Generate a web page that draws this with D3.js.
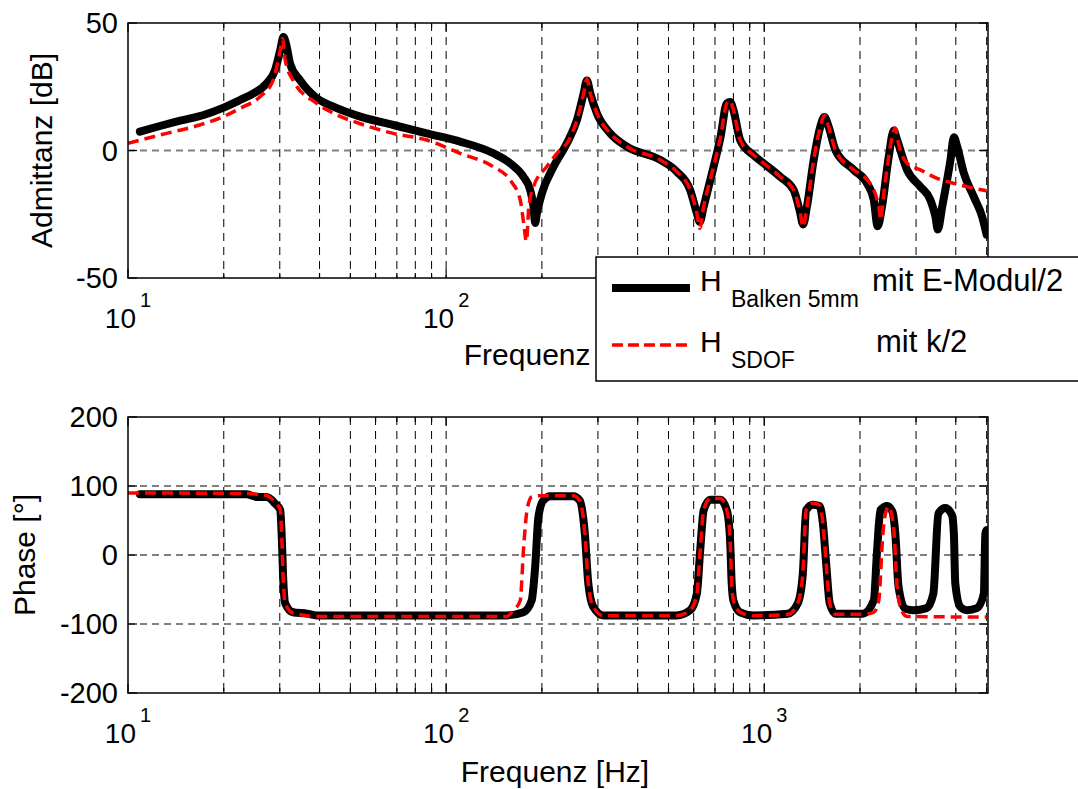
<!DOCTYPE html>
<html>
<head>
<meta charset="utf-8">
<script src="https://cdnjs.cloudflare.com/ajax/libs/d3/7.8.5/d3.min.js"></script>
<style>
  body { margin: 0; background: #fff; }
  svg { display: block; font-family: "Liberation Sans", Arial, Helvetica, sans-serif; }
</style>
</head>
<body>
<svg id="chart"></svg>
<script>
// ---- values ----
// magnitude, beam model (black)
const magFreqBalken = [10.9, 12.6, 14.6, 17.3, 19.7, 22.5, 24.8, 27.3, 29.0, 30.1, 30.8, 31.5, 32.3, 34.7, 39.2, 44.2, 53.7, 68.2, 86.9, 110.6, 140.8, 158.9, 175, 183.7, 188.2, 190.5, 192.9, 200, 217.5, 239.6, 257.8, 270.6, 277, 283.9, 297.8, 328, 370, 471, 531, 585, 614, 627, 645, 693, 728, 762.6, 781, 800, 840, 925, 995, 1122, 1237, 1298, 1324, 1362, 1430, 1500, 1545, 1594, 1673, 1910, 2105, 2209, 2272, 2345, 2462, 2553, 2616, 2811, 3096, 3328, 3453, 3511, 3626, 3849, 3945, 4041, 4240, 4554, 4842, 5000];
const magDbBalken = [7.4, 9.6, 11.7, 13.9, 16.5, 19.8, 22.4, 26.4, 31.6, 39.4, 44.5, 41, 34.2, 27.6, 20.5, 17.2, 13.3, 10, 6.7, 3.5, -1.1, -5, -10.3, -15.5, -22, -28.4, -24.6, -16.8, -6.4, 2.8, 12, 22.4, 27.5, 22.4, 14.6, 6.7, 1.5, -3.7, -8.3, -15.5, -24.6, -28, -22, -6.4, 5, 18.5, 19, 15.9, 4.1, -1.8, -5, -10.3, -15.5, -24.6, -29, -22, -3.7, 9.3, 13.1, 9.3, 0.2, -7.6, -12.9, -19.4, -29.7, -22, -2.4, 7.8, 4.1, -7.6, -14.2, -19.4, -26, -31, -22, -3.7, 5.2, 1.5, -8.9, -18.1, -26, -33];

// magnitude, SDOF model (red dashed)
const magFreqSdof = [10, 12.6, 16.8, 19.7, 22.5, 26, 28.6, 30.1, 30.6, 31.2, 33, 39.2, 44.2, 53.7, 68.2, 86.9, 110.6, 140.8, 158.9, 171, 175.5, 178.8, 182, 188.2, 207, 228, 239.6, 257.8, 270.6, 277, 283.9, 297.8, 328, 370, 471, 531, 585, 614, 627, 645, 693, 728, 762.6, 781, 800, 840, 925, 995, 1122, 1237, 1298, 1324, 1362, 1430, 1500, 1545, 1594, 1673, 1910, 2105, 2209, 2290, 2327, 2360, 2462, 2540, 2582, 2640, 2811, 3096, 3493, 3945, 4554, 5000];
const magDbSdof = [2.8, 6.1, 10, 13, 16.5, 21.1, 27.6, 39.4, 43.8, 35.5, 27.6, 18.5, 14.6, 10.5, 6.7, 4.1, -1.1, -6.4, -11.6, -19.4, -29, -35.6, -22, -14.2, -6.4, 0.2, 2.8, 12, 22.4, 28.1, 22.4, 14.6, 6.7, 1.5, -3.7, -8.3, -15.5, -24.6, -30.5, -22, -6.4, 5, 18.5, 19.5, 15.9, 4.1, -1.8, -5, -10.3, -15.5, -24.6, -30, -22, -3.7, 9.3, 13.8, 9.3, 0.2, -7.6, -11.5, -15.5, -22, -27.1, -20, -2.4, 7, 8.8, 3, -5, -7.6, -10.9, -12.9, -14.8, -15.8];

// phase, beam model (black)
const phaseFreqBalken = [10.9, 23.6, 25.4, 27.3, 29.0, 30.1, 30.4, 30.8, 31.2, 33.0, 36.5, 39.2, 155, 175, 185.7, 190.5, 195, 202, 212.5, 251, 263, 272.9, 279.8, 290, 312, 531, 585, 614, 629, 645, 677, 728, 762.6, 781, 790, 800, 840, 925, 1186, 1275, 1322, 1354, 1421, 1492, 1529, 1568, 1606, 1673, 2040, 2209, 2263, 2318, 2435, 2527, 2582, 2643, 2772, 2942, 3240, 3400, 3527, 3706, 3890, 3945, 3985, 4130, 4337, 4660, 4900, 4955, 5000];
const phaseDegBalken = [88, 88, 84, 84, 74.5, 65, 31, -41, -70, -83, -85, -87.5, -87.5, -83, -66, -17, 55, 79, 85, 85, 79, 31, -41, -75, -87.5, -87.5, -80, -56, 7, 65, 80, 80, 65, 21, -41, -66, -83, -87.5, -85, -70, -27, 65, 73, 71, 45.5, -17, -70, -85, -85, -66, 7, 65, 71, 63, 31, -46, -78, -80, -77, -56, 60, 68, 58, 31, -41, -75, -80, -77, -56, 31, 36];

// phase, SDOF model (red dashed)
const phaseFreqSdof = [10, 23.6, 27.3, 29.0, 30.1, 30.4, 30.8, 31.2, 33.0, 39.2, 155, 163, 171, 175, 179.6, 185.7, 198, 251, 263, 272.9, 279.8, 290, 312, 531, 585, 614, 629, 645, 677, 728, 762.6, 781, 790, 800, 840, 925, 1186, 1275, 1322, 1354, 1421, 1492, 1529, 1568, 1606, 1673, 2040, 2209, 2290, 2360, 2410, 2462, 2553, 2616, 2700, 2811, 5000];
const phaseDegSdof = [90, 89, 86, 76, 66, 31, -41, -70, -84, -89, -89, -80, -66, 7, 65, 84, 86, 86, 79, 31, -41, -75, -88, -88, -80, -56, 7, 65, 82, 82, 65, 21, -41, -66, -83, -88, -86, -70, -27, 65, 75, 72, 45.5, -17, -70, -86, -86, -83, -66, 31, 62, 70, 38, -46, -80, -89, -90];

// axes
const xDomain = [10, 5050];
const xDecades = [10, 100, 1000];
const xExponents = ['1', '2', '3'];
const magTicks = [-50, 0, 50];
const phaseTicks = [-200, -100, 0, 100, 200];

const svg = d3.select('#chart')
    .attr('width', 1078)
    .attr('height', 789);

class BodePanel {
    constructor(_config, _series) {
        this.config = {
            parentElement: _config.parentElement,
            id: _config.id,
            left: 128,
            right: 988,
            top: _config.top,
            bottom: _config.bottom,
            yDomain: _config.yDomain,
            yTicks: _config.yTicks,
            yLabel: _config.yLabel,
            yLabelX: _config.yLabelX,
            xLabelX: _config.xLabelX,
            xLabelY: _config.xLabelY
        };
        this.series = _series;
        this.initVis();
    }

    initVis() {
        let vis = this;
        const c = vis.config;

        vis.x = d3.scaleLog().domain(xDomain).range([c.left, c.right]);
        vis.y = d3.scaleLinear().domain(c.yDomain).range([c.bottom, c.top]);

        vis.g = c.parentElement.append('g');

        vis.g.append('clipPath')
            .attr('id', 'clip-' + c.id)
          .append('rect')
            .attr('x', c.left)
            .attr('y', c.top)
            .attr('width', c.right - c.left)
            .attr('height', c.bottom - c.top);

        vis.renderVis();
    }

    renderVis() {
        let vis = this;
        const c = vis.config;
        const gridValues = vis.x.ticks().filter(v => v > xDomain[0] && v < xDomain[1]);

        // vertical grid (decades + minor)
        vis.g.append('g').selectAll('line')
            .data(gridValues)
            .join('line')
              .attr('x1', d => vis.x(d))
              .attr('x2', d => vis.x(d))
              .attr('y1', c.top)
              .attr('y2', c.bottom)
              .attr('stroke', '#000')
              .attr('stroke-width', 1)
              .attr('stroke-dasharray', '8,6');

        // horizontal grid
        vis.g.append('g').selectAll('line')
            .data(c.yTicks.filter(v => v > c.yDomain[0] && v < c.yDomain[1]))
            .join('line')
              .attr('x1', c.left)
              .attr('x2', c.right)
              .attr('y1', d => vis.y(d))
              .attr('y2', d => vis.y(d))
              .attr('stroke', '#808080')
              .attr('stroke-width', 2)
              .attr('stroke-dasharray', '7,5');

        // curves
        const line = d3.line()
            .x(d => vis.x(d[0]))
            .y(d => vis.y(d[1]))
            .curve(d3.curveMonotoneX);

        const curves = vis.g.append('g').attr('clip-path', `url(#clip-${c.id})`);
        vis.series.forEach(s => {
            curves.append('path')
                .datum(d3.zip(s.freq, s.values))
                .attr('d', line)
                .attr('fill', 'none')
                .attr('stroke', s.color)
                .attr('stroke-width', s.width)
                .attr('stroke-linejoin', 'round')
                .attr('stroke-linecap', s.dash ? 'butt' : 'round')
                .attr('stroke-dasharray', s.dash || null);
        });

        // tick marks, inward
        const ticks = vis.g.append('g').attr('stroke', '#000').attr('stroke-width', 1.2);
        gridValues.concat([xDomain[0]]).forEach(v => {
            const len = xDecades.includes(v) ? 9 : 5;
            const px = vis.x(v);
            ticks.append('line').attr('x1', px).attr('x2', px).attr('y1', c.bottom).attr('y2', c.bottom - len);
            ticks.append('line').attr('x1', px).attr('x2', px).attr('y1', c.top).attr('y2', c.top + len);
        });
        c.yTicks.forEach(v => {
            const py = vis.y(v);
            ticks.append('line').attr('x1', c.left).attr('x2', c.left + 9).attr('y1', py).attr('y2', py);
            ticks.append('line').attr('x1', c.right).attr('x2', c.right - 9).attr('y1', py).attr('y2', py);
        });

        // box
        vis.g.append('rect')
            .attr('x', c.left)
            .attr('y', c.top)
            .attr('width', c.right - c.left)
            .attr('height', c.bottom - c.top)
            .attr('fill', 'none')
            .attr('stroke', '#000')
            .attr('stroke-width', 1.5);

        // y tick labels
        vis.g.append('g').selectAll('text')
            .data(c.yTicks)
            .join('text')
              .attr('x', c.left - 10)
              .attr('y', d => vis.y(d))
              .attr('dy', '0.36em')
              .attr('text-anchor', 'end')
              .attr('font-size', 29)
              .text(d => d);

        // x tick labels 10^n
        const xt = vis.g.append('g').selectAll('text')
            .data(xDecades)
            .join('text')
              .attr('x', d => vis.x(d))
              .attr('y', c.bottom + 50)
              .attr('text-anchor', 'middle')
              .attr('font-size', 28)
              .text('10');
        xt.append('tspan')
            .attr('dx', 4)
            .attr('dy', -21)
            .attr('font-size', 20)
            .text((d, i) => xExponents[i]);

        // axis labels
        vis.g.append('text')
            .attr('x', c.xLabelX)
            .attr('y', c.xLabelY)
            .attr('text-anchor', 'middle')
            .attr('font-size', 30)
            .text('Frequenz [Hz]');

        vis.g.append('text')
            .attr('transform', `translate(${c.yLabelX}, ${(c.top + c.bottom) / 2}) rotate(-90)`)
            .attr('text-anchor', 'middle')
            .attr('font-size', 30)
            .text(c.yLabel);
    }
}

const magPanel = new BodePanel({
    parentElement: svg, id: 'mag',
    top: 23, bottom: 278,
    yDomain: [-50, 50], yTicks: magTicks,
    yLabel: 'Admittanz [dB]', yLabelX: 52,
    xLabelX: 558, xLabelY: 365
}, [
    {freq: magFreqBalken, values: magDbBalken, color: '#000', width: 8},
    {freq: magFreqSdof, values: magDbSdof, color: '#ff0000', width: 3.5, dash: '11,6'}
]);

const phasePanel = new BodePanel({
    parentElement: svg, id: 'phase',
    top: 417, bottom: 693,
    yDomain: [-200, 200], yTicks: phaseTicks,
    yLabel: 'Phase [°]', yLabelX: 35,
    xLabelX: 555, xLabelY: 782
}, [
    {freq: phaseFreqBalken, values: phaseDegBalken, color: '#000', width: 8},
    {freq: phaseFreqSdof, values: phaseDegSdof, color: '#ff0000', width: 3.5, dash: '11,6'}
]);

// legend, sits over the lower right corner of the top panel
const legend = svg.append('g');
legend.append('rect')
    .attr('x', 596)
    .attr('y', 257)
    .attr('width', 520)
    .attr('height', 124)
    .attr('fill', '#fff')
    .attr('stroke', '#000')
    .attr('stroke-width', 1.5);

const legendRows = [
    {sub: 'Balken 5mm', text: 'mit E-Modul/2', color: '#000', width: 8, dash: null, lineY: 288, baseY: 291, textX: 872},
    {sub: 'SDOF', text: 'mit k/2', color: '#ff0000', width: 3.5, dash: '11,5', lineY: 345, baseY: 352, textX: 876}
];
legendRows.forEach(r => {
    legend.append('line')
        .attr('x1', 612).attr('x2', 690)
        .attr('y1', r.lineY).attr('y2', r.lineY)
        .attr('stroke', r.color)
        .attr('stroke-width', r.width)
        .attr('stroke-dasharray', r.dash);
    legend.append('text')
        .attr('x', 700)
        .attr('y', r.baseY)
        .attr('font-size', 30)
        .text('H');
    // subscript as its own text
    legend.append('text')
        .attr('x', 731)
        .attr('y', r.baseY + 16)
        .attr('font-size', 23)
        .text(r.sub);
    legend.append('text')
        .attr('x', r.textX)
        .attr('y', r.baseY)
        .attr('font-size', 31)
        .text(r.text);
});
</script>
</body>
</html>
